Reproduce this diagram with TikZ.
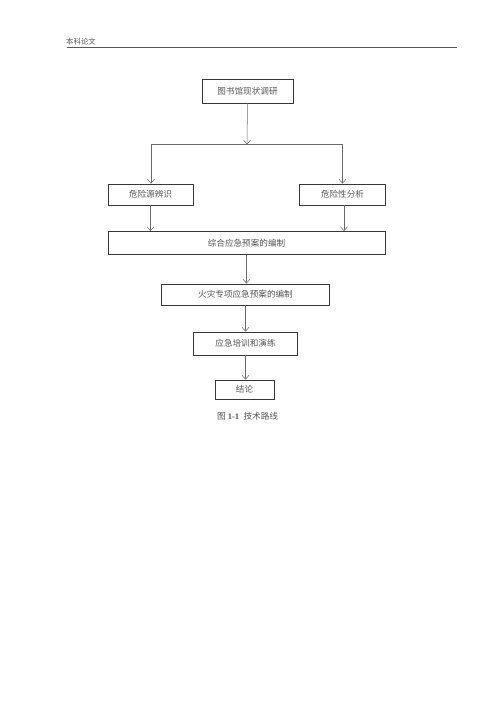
\documentclass[tikz,border=0pt]{standalone}
\usepackage{fontspec}
\setmainfont{Liberation Serif}
\newfontfamily\cjk{Noto Sans CJK SC}
\usepackage{tikz}
\usetikzlibrary{
  arrows.meta,
  positioning,
  calc
}
\definecolor{boxcolor}{RGB}{55, 55, 55}
\definecolor{arrowcolor}{RGB}{105, 105, 105}
\definecolor{labelcolor}{RGB}{85, 85, 85}
\definecolor{rulecolor}{RGB}{90, 90, 90}
\tikzset{
blocktext/.style={
  align=center,
  font=\cjk\fontsize{8.6}{10}\selectfont,
  text=labelcolor
},
block/.style={
  draw=boxcolor,
  line width=0.8pt,
  inner sep=0pt,
  blocktext
},
arrow/.style={
  -{Straight Barb[length=4pt,width=7pt]},
  line width=0.5pt,
  draw=arrowcolor
},
line/.style={
  line width=0.5pt,
  draw=arrowcolor
}
}

\begin{document}
\begin{tikzpicture}[x=1pt, y=-1pt]
  \useasboundingbox (0,0) rectangle (500,708);

  % --- header ---
  \node[anchor=west, font=\cjk\fontsize{7.4}{9}\selectfont, text=labelcolor, inner sep=0pt]
    (head) at (66, 41.5) {本科论文};
  \draw[draw=rulecolor, line width=1.1pt] (67, 47.5) coordinate (rulel) -- (457, 47.5) coordinate (ruler);

  % --- boxes ---
  \node[block, minimum width=91pt, minimum height=24pt] (survey) at (247.5, 91) {图书馆现状调研};
  \node[block, minimum width=85pt, minimum height=21pt] (hazard) at (150.5, 194.5) {危险源辨识};
  \node[block, minimum width=86pt, minimum height=21pt] (risk) at (342.5, 194.5) {危险性分析};
  \node[block, minimum width=277pt, minimum height=23pt] (general) at (246.5, 243) {综合应急预案的编制};
  \node[block, minimum width=168pt, minimum height=21pt] (fire) at (245.5, 294.5) {火灾专项应急预案的编制};
  \node[block, minimum width=104pt, minimum height=23pt] (train) at (245.5, 343.5) {应急培训和演练};
  \node[block, minimum width=59pt, minimum height=19pt] (concl) at (244.5, 389.5) {结论};

  % --- connectors ---
  \coordinate (split) at (247, 144.5);
  \coordinate (splitl) at (151, 144.5);
  \coordinate (splitr) at (342.5, 144.5);
  \draw[arrow] (survey.south) -- (split);
  \draw[line] (splitl) -- (splitr);
  \draw[arrow] (splitl) -- (splitl |- hazard.north);
  \draw[arrow] (splitr) -- (splitr |- risk.north);
  \draw[arrow] (hazard.south) -- (hazard.south |- general.north);
  \draw[arrow] ($(risk.south)+(1.5,0)$) -- ($(risk.south |- general.north)+(1.5,0)$);
  \draw[arrow] (general.south) -- (general.south |- fire.north);
  \draw[arrow] (fire.south) -- (fire.south |- train.north);
  \draw[arrow] (train.south) -- (train.south |- concl.north);

  % --- caption ---
  \node[font=\fontsize{8.6}{10}\selectfont, text=labelcolor, inner sep=0pt]
    (caption) at (247.5, 416) {{\cjk 图}~\textbf{1-1}~~{\cjk 技术路线}};
\end{tikzpicture}
\end{document}
